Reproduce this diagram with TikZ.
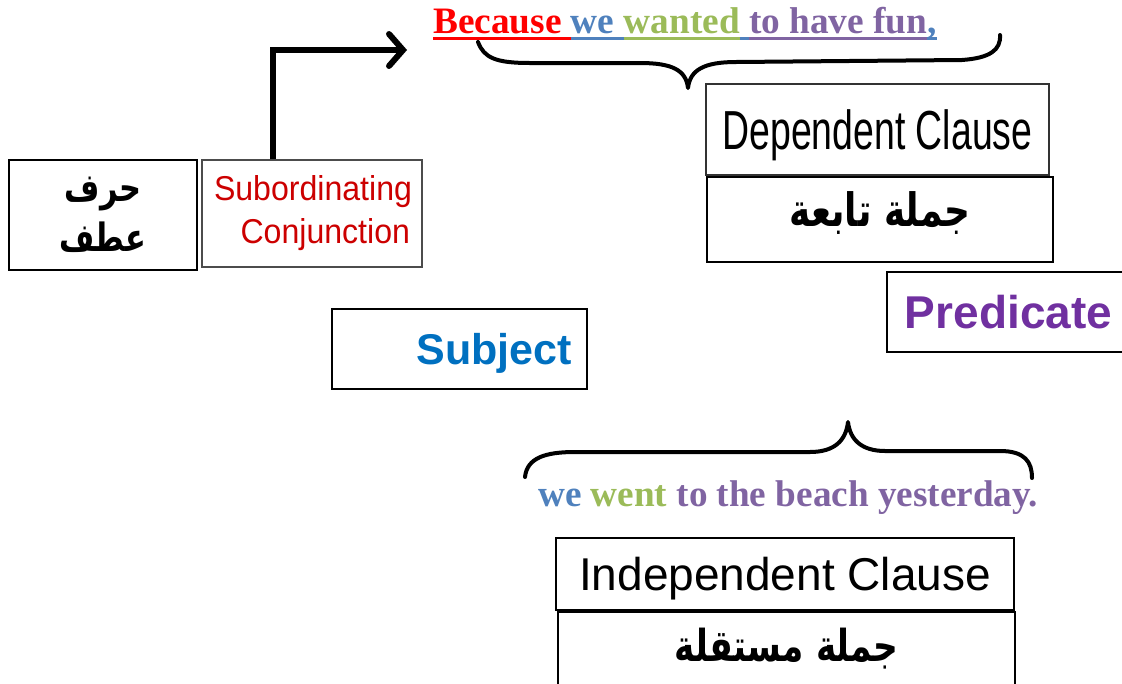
\documentclass[tikz,border=0pt]{standalone}
\usepackage{fontspec}
\setmainfont{Liberation Serif}
\newfontfamily\sansfont{Liberation Sans}
\newfontfamily\narrowfont[FakeStretch=0.68]{Liberation Sans}
\newfontfamily\subfont[FakeStretch=0.93]{Liberation Sans}
\newfontfamily\arabicfont[Script=Arabic,FakeStretch=0.78]{DejaVu Sans}
\TeXXeTstate=1
\usepackage{tikz}
\usetikzlibrary{arrows.meta, positioning}

\definecolor{becred}{HTML}{FF0000}
\definecolor{wordblue}{HTML}{4F81BD}
\definecolor{wordgreen}{HTML}{9BBB59}
\definecolor{wordpurple}{HTML}{8064A2}
\definecolor{subred}{HTML}{CC0000}
\definecolor{subjblue}{HTML}{0070C0}
\definecolor{predpurple}{HTML}{7030A0}

% coloured word with its own coloured underline
\newcommand{\colul}[2]{{\color{#1}\setbox0\hbox{#2}\rlap{\rule[-7pt]{\wd0}{3pt}}\box0}}

\tikzset{
  box/.style={draw, line width=1.5pt, inner sep=0pt},
  arbox/.style={box, line width=2.5pt, text height=30pt, text depth=17pt},
  brace/.style={line width=4pt, line cap=round, line join=round},
}

\begin{document}
\begin{tikzpicture}[x=1pt,y=1pt]
\useasboundingbox (0,0) rectangle (1122,-683);
\clip (0,0) rectangle (1122,-683);

% left boxes
\node[box, line width=2pt, minimum width=188pt, minimum height=110pt, align=center,
  font={\arabicfont\bfseries\fontsize{39}{50}\selectfont}] (harf) at (103,-215)
  {\beginR حرف\endR\\\beginR عطف\endR};
\node[box, draw=black!70, minimum width=220pt, minimum height=107pt, text width=196pt,
  align=right, text=subred, font={\subfont\fontsize{34.5}{43}\selectfont}] (subconj) at (312,-213.5)
  {Subordinating\\Conjunction};

% arrow up to the sentence
\coordinate (arrowend) at (407,-50);
\draw[line width=6pt, -{Straight Barb[length=14pt,width=32pt,line cap=round]}]
  ([xshift=-39pt]subconj.north) |- (arrowend);

% dependent clause
\node[anchor=base west, inner sep=0pt, font={\bfseries\fontsize{37.3}{40}\selectfont}] (depsent) at (433,-33)
  {\colul{becred}{Because }\colul{wordblue}{we }\colul{wordgreen}{wanted}\colul{wordblue}{\ }\colul{wordpurple}{to have fun}\colul{wordblue}{,}};
\draw[brace] (478,-42) .. controls (484,-58) and (496,-63) .. (530,-63) -- (640,-63)
  .. controls (672,-63) and (686,-70) .. (688,-88)
  .. controls (690,-70) and (704,-62) .. (736,-62) -- (962,-60)
  .. controls (990,-58) and (1001,-50) .. (1000,-35);

\node[box, draw=black!80, minimum width=343pt, minimum height=91pt, text depth=0pt,
  font={\narrowfont\fontsize{55}{60}\selectfont}] (dep) at (877.5,-129.5) {Dependent Clause};
\node[arbox, minimum width=346pt, minimum height=85pt, below=0pt of dep, xshift=2.5pt,
  font={\arabicfont\bfseries\fontsize{46}{52}\selectfont}] (tabia)
  {\beginR جملة تابعة\endR};

% subject and predicate
\node[box, minimum width=255pt, minimum height=80pt, text width=225pt, align=right, text depth=0pt,
  text=subjblue, font={\sansfont\bfseries\fontsize{43}{48}\selectfont}] (subj) at (459.5,-349) {Subject};
\node[box, minimum width=243pt, minimum height=80pt,
  text=predpurple, font={\sansfont\bfseries\fontsize{46}{50}\selectfont}] (pred) at (1008.5,-312) {Predicate};

% independent clause
\draw[brace] (525,-477) .. controls (527,-458) and (545,-452) .. (575,-452) -- (810,-452)
  .. controls (835,-452) and (846,-440) .. (848,-422)
  .. controls (850,-440) and (862,-451) .. (885,-451) -- (1000,-451)
  .. controls (1025,-451) and (1032,-462) .. (1032,-478);
\node[anchor=base west, inner sep=0pt, font={\bfseries\fontsize{37.2}{40}\selectfont}] (indsent) at (538,-506)
  {\textcolor{wordblue}{we} \textcolor{wordgreen}{went} \textcolor{wordpurple}{to the beach yesterday.}};

\node[box, minimum width=458pt, minimum height=72pt, text depth=0pt,
  font={\sansfont\fontsize{46}{50}\selectfont}] (indep) at (785,-574) {Independent Clause};
\node[arbox, minimum width=457pt, minimum height=90pt, below=0pt of indep, xshift=1.5pt,
  text depth=22pt, font={\arabicfont\bfseries\fontsize{44}{50}\selectfont}] (mustaqil)
  {\beginR جملة مستقلة\endR};

\end{tikzpicture}
\end{document}
